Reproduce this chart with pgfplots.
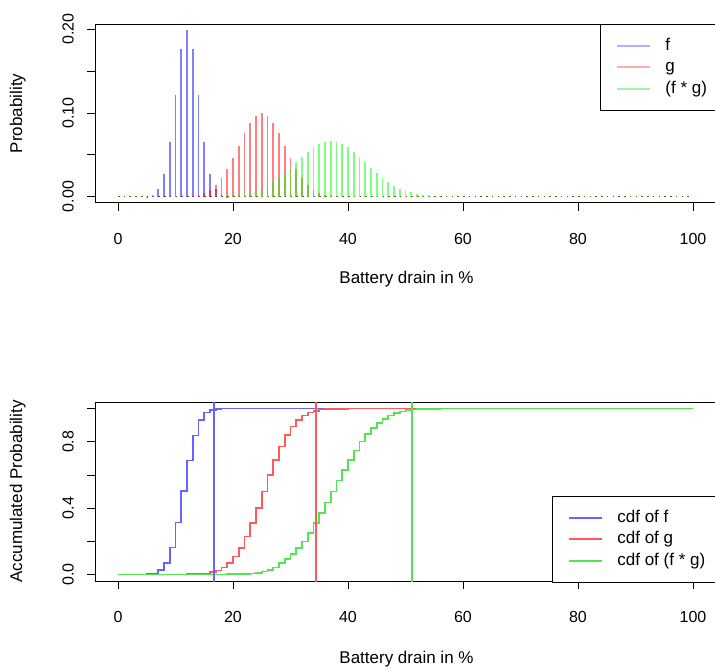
\documentclass[border=0pt]{standalone}
\usepackage{fontspec}
\setmainfont{Liberation Sans}
\usepackage{pgfplots}
\pgfplotsset{compat=1.18}

\newcommand{\tickfont}{\fontsize{16bp}{19bp}\selectfont}
\newcommand{\labfont}{\fontsize{17bp}{20bp}\selectfont}

\definecolor{pblue}{RGB}{100,100,255}
\definecolor{pred}{RGB}{255,90,90}
\definecolor{pgreen}{RGB}{80,230,80}

\pgfplotsset{
  rplot/.style={
    scale only axis, width=623bp,
    xmin=-4, xmax=104.35,
    xtick={0,20,40,60,80,100},
    axis line style={line width=0.8bp, black},
    tick align=outside, tick pos=left,
    major tick length=8bp,
    every tick/.style={black, line width=0.8bp},
    tick label style={font=\tickfont},
    label style={font=\labfont},
    /pgf/number format/assume math mode=true,
    xticklabel style={anchor=center, yshift=-28bp},
    yticklabel style={rotate=90, anchor=center, xshift=0bp, yshift=19bp},
    legend cell align=left,
    legend style={draw=black, line width=0.8bp, fill=white,
      inner xsep=16bp, inner ysep=14bp, row sep=6.5bp, column sep=14bp,
      nodes={inner sep=0pt, font=\labfont, text height=12bp, text depth=3bp}},
  },
  bblue/.style={draw=blue, draw opacity=0.5},
  bred/.style={draw=red, draw opacity=0.5},
  bgreen/.style={draw=green, draw opacity=0.5},
  limg/.style={legend image code/.code={\draw[##1, line width=2bp] (0bp,0bp) -- (33bp,0bp);}},
}

\begin{document}
\begin{tikzpicture}
\useasboundingbox (0bp,0bp) rectangle (715bp,671bp);

% pmf of f, g and their convolution
\begin{axis}[rplot,
  at={(95bp,468.3bp)}, anchor=south west, height=178.7bp,
  ymin=-0.0072, ymax=0.2063,
  ytick={0,0.05,0.1,0.15,0.2}, yticklabels={0.00,,0.10,,0.20},
  xlabel={Battery drain in \%}, ylabel={Probability},
  xlabel style={at={(axis description cs:0.5,-0.427)}, anchor=center},
  ylabel style={at={(axis description cs:-0.124,0.5)}, anchor=center},
  legend style={at={(rel axis cs:0.8106,1)}, anchor=north west,
    column 2/.style={nodes={text width=75bp, align=left}}},
]
\addplot[forget plot, draw=black!45!green!60!red, dash pattern=on 1.6bp off 4.15bp, line width=1bp]
  coordinates {(0,0) (100,0)};
\addplot[ycomb, bblue, line width=1.7bp, legend image code/.code={\draw[pblue, line width=2bp] (0bp,0bp) -- (33bp,0bp);}] coordinates {
  (5,0.0002) (6,0.002) (7,0.009) (8,0.027) (9,0.065) (10,0.121) (11,0.176)
  (12,0.199) (13,0.176) (14,0.121) (15,0.065) (16,0.027) (17,0.009)
  (18,0.002) (19,0.0002)};
\addlegendentry{f}
\addplot[ycomb, bred, line width=1.7bp, legend image code/.code={\draw[pred, line width=2bp] (0bp,0bp) -- (33bp,0bp);}] coordinates {
  (12,0.0005) (13,0.001) (14,0.0022) (15,0.0044) (16,0.008) (17,0.0142)
  (18,0.022) (19,0.033) (20,0.046) (21,0.0605) (22,0.0758) (23,0.088)
  (24,0.0962) (25,0.0996) (26,0.0962) (27,0.088) (28,0.0758) (29,0.0605)
  (30,0.046) (31,0.033) (32,0.022) (33,0.0142) (34,0.008) (35,0.0044)
  (36,0.0022) (37,0.001) (38,0.0005)};
\addlegendentry{g}
\addplot[ycomb, bgreen, line width=1.7bp, legend image code/.code={\draw[pgreen, line width=2bp] (0bp,0bp) -- (33bp,0bp);}] coordinates {
  (18,0.0004) (19,0.0008) (20,0.0014) (21,0.0022) (22,0.0034) (23,0.005)
  (24,0.007) (25,0.0094) (26,0.013) (27,0.0171) (28,0.0223) (29,0.0282)
  (30,0.0342) (31,0.041) (32,0.0474) (33,0.0537) (34,0.0593) (35,0.0633)
  (36,0.0657) (37,0.0669) (38,0.0657) (39,0.0633) (40,0.0593) (41,0.0537)
  (42,0.0474) (43,0.041) (44,0.0342) (45,0.0282) (46,0.0223) (47,0.0171)
  (48,0.013) (49,0.0094) (50,0.007) (51,0.005) (52,0.0034) (53,0.0022)
  (54,0.0014) (55,0.0008) (56,0.0004)};
\addlegendentry{(f * g)}
\end{axis}

% cumulative distributions
\begin{axis}[rplot,
  at={(95bp,90bp)}, anchor=south west, height=179bp,
  ymin=-0.04, ymax=1.04,
  ytick={0,0.2,0.4,0.6,0.8,1}, yticklabels={0.0,,0.4,,0.8,},
  xlabel={Battery drain in \%}, ylabel={Accumulated Probability},
  xlabel style={at={(axis description cs:0.5,-0.436)}, anchor=center},
  ylabel style={at={(axis description cs:-0.124,0.5)}, anchor=center},
  legend style={at={(rel axis cs:0.7335,0.4749)}, anchor=north west,
    column 2/.style={nodes={text width=120bp, align=left}}},
]
\addplot[const plot, pblue, line width=1.6bp, limg] coordinates {
  (0,0) (4,0.0001) (5,0.001) (6,0.006) (7,0.025) (8,0.069) (9,0.163)
  (10,0.312) (11,0.502) (12,0.688) (13,0.838) (14,0.932) (15,0.977)
  (16,0.993) (17,0.999) (18,1) (100,1)};
\addlegendentry{cdf of f}
\addplot[const plot, pred, line width=1.6bp, limg] coordinates {
  (0,0) (12,0.0006) (13,0.0014) (14,0.003) (15,0.0063) (16,0.0125)
  (17,0.0233) (18,0.0409) (19,0.0681) (20,0.1073) (21,0.1606) (22,0.2285)
  (23,0.3101) (24,0.4021) (25,0.5) (26,0.5979) (27,0.6899) (28,0.7715)
  (29,0.8394) (30,0.8927) (31,0.9319) (32,0.9591) (33,0.9767) (34,0.9875)
  (35,0.9937) (36,0.997) (37,0.9986) (38,0.9994) (40,1) (100,1)};
\addlegendentry{cdf of g}
\addplot[const plot, pgreen, line width=1.6bp, limg] coordinates {
  (0,0) (18,0.0002) (19,0.0005) (20,0.001) (21,0.002) (22,0.003) (23,0.006)
  (24,0.01) (25,0.017) (26,0.027) (27,0.041) (28,0.067) (29,0.091)
  (30,0.123) (31,0.158) (32,0.198) (33,0.248) (34,0.309) (35,0.369)
  (36,0.433) (37,0.5) (38,0.566) (39,0.631) (40,0.691) (41,0.748)
  (42,0.802) (43,0.846) (44,0.883) (45,0.913) (46,0.939) (47,0.959)
  (48,0.973) (49,0.983) (50,0.99) (51,0.994) (52,0.997) (53,0.998)
  (54,0.999) (56,1) (100,1)};
\addlegendentry{cdf of (f * g)}
\addplot[forget plot, pblue, line width=1.5bp] coordinates {(16.7,-0.1) (16.7,1.1)};
\addplot[forget plot, pred, line width=1.5bp] coordinates {(34.4,-0.1) (34.4,1.1)};
\addplot[forget plot, pgreen, line width=1.5bp] coordinates {(51.1,-0.1) (51.1,1.1)};
\end{axis}
\end{tikzpicture}
\end{document}
